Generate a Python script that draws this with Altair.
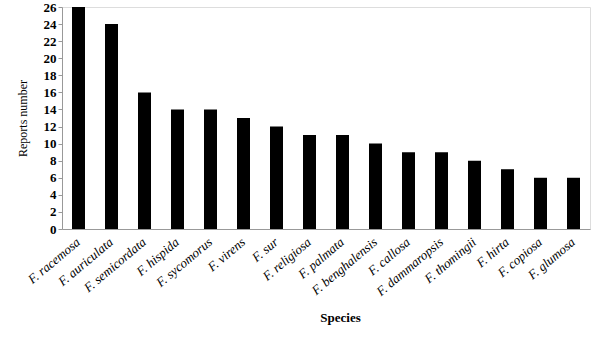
import altair as alt
import pandas as pd

species = ["F. racemosa", "F. auriculata", "F. semicordata", "F. hispida", "F. sycomorus",
           "F. virens", "F. sur", "F. religiosa", "F. palmata", "F. benghalensis",
           "F. callosa", "F. dammaropsis", "F. thomingii", "F. hirta", "F. copiosa", "F. glumosa"]
reports = [26, 24, 16, 14, 14, 13, 12, 11, 11, 10, 9, 9, 8, 7, 6, 6]
y_ticks = list(range(0, 27, 2))

df = pd.DataFrame({"Species": species, "Reports": reports})

chart = alt.Chart(df).mark_bar(color="black", size=13).encode(
    x=alt.X("Species:N", sort=species, title="Species",
            scale=alt.Scale(paddingInner=0.6, paddingOuter=0.3),
            axis=alt.Axis(labelAngle=-40, labelAlign="right", labelBaseline="middle",
                          labelFont="Liberation Serif", labelFontStyle="italic", labelFontSize=13,
                          labelColor="black", ticks=False, labelPadding=11,
                          domainColor="#999999", titleFont="Liberation Serif",
                          titleFontWeight="bold", titleFontSize=13, titleColor="black",
                          titlePadding=13, titleX=278)),
    y=alt.Y("Reports:Q", title="Reports number",
            scale=alt.Scale(domain=[0, 26], nice=False),
            axis=alt.Axis(values=y_ticks, grid=False, labelFont="Liberation Serif",
                          labelFontWeight="bold", labelFontSize=13, labelColor="black",
                          tickColor="#999999", tickSize=4, domainColor="#999999",
                          titleFont="Liberation Serif", titleFontWeight="normal",
                          titleFontSize=12, titleColor="black", titlePadding=14)),
).properties(
    width=528, height=222,
    padding={"left": 62, "top": 7, "right": 10, "bottom": 122},
    autosize=alt.AutoSizeParams(type="none"),
).configure_view(stroke=None).configure(background="white")

chart.save("out.html", embed_options={"renderer": "svg", "actions": False})
